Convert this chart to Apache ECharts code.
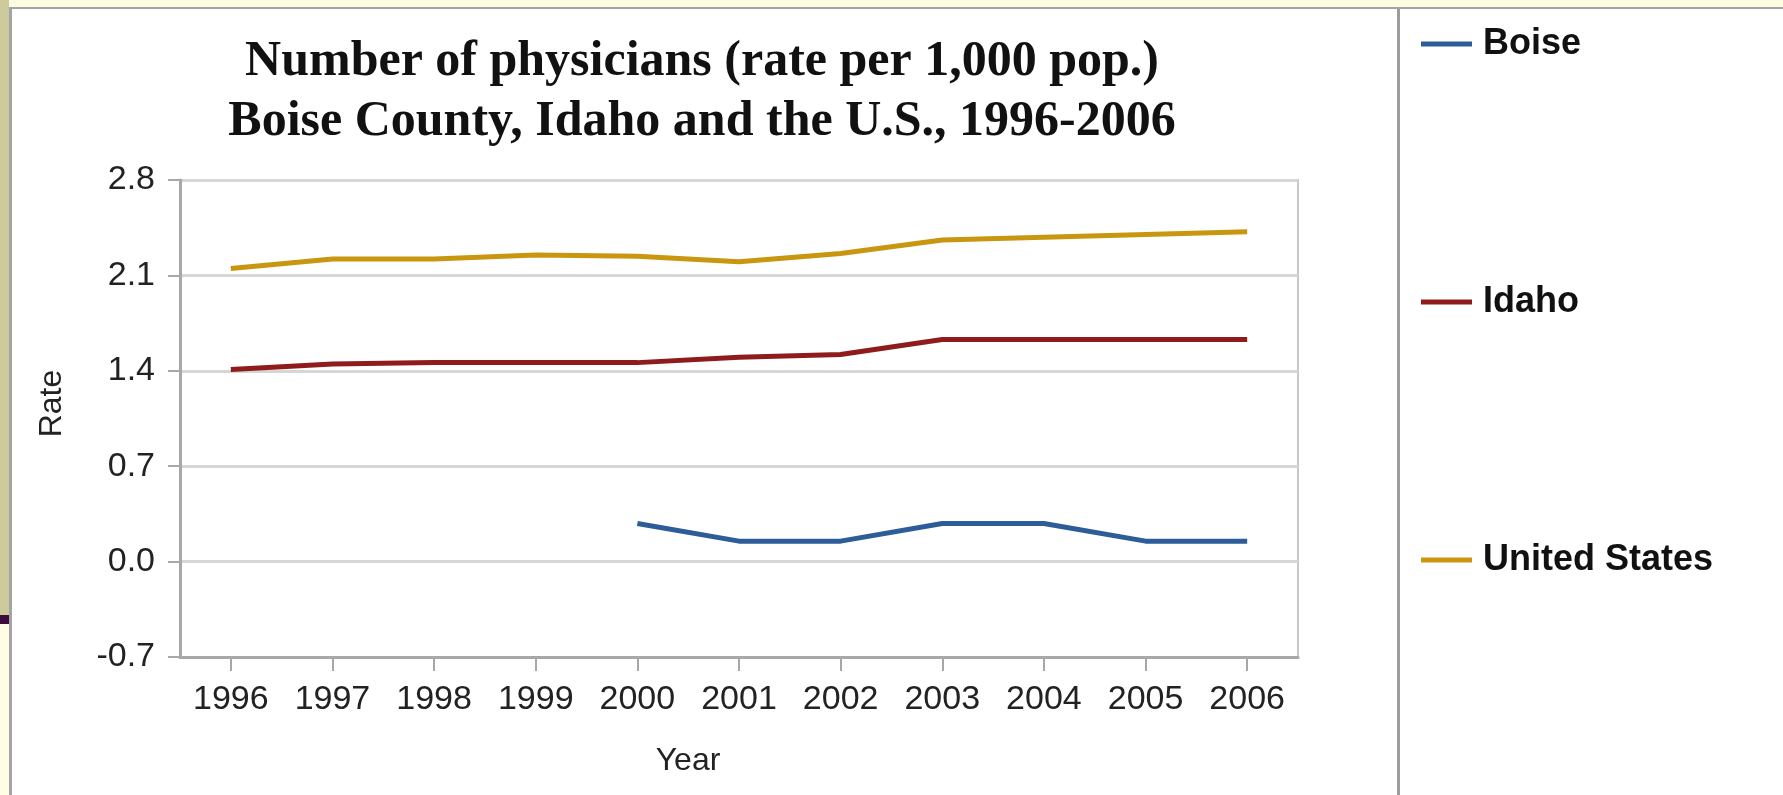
<!DOCTYPE html>
<html>
<head>
<meta charset="utf-8">
<script src="https://cdn.jsdelivr.net/npm/echarts@6/dist/echarts.min.js"></script>
<style>
html,body{margin:0;padding:0;background:#ffffff;}
#chart{width:1783px;height:795px;}
</style>
</head>
<body>
<div id="chart"></div>
<script>
const years = ['1996','1997','1998','1999','2000','2001','2002','2003','2004','2005','2006'];
const yTickValues = [-0.7, 0.0, 0.7, 1.4, 2.1, 2.8];
const boise = [null, null, null, null, 0.28, 0.15, 0.15, 0.28, 0.28, 0.15, 0.15];
const idaho = [1.41, 1.45, 1.46, 1.46, 1.46, 1.50, 1.52, 1.63, 1.63, 1.63, 1.63];
const unitedStates = [2.15, 2.22, 2.22, 2.25, 2.24, 2.20, 2.26, 2.36, 2.38, 2.40, 2.42];
const seriesNames = ['Boise', 'Idaho', 'United States'];
const seriesColors = ['#2c5d98', '#8e1c1c', '#c9960f'];
const titleText = 'Number of physicians (rate per 1,000 pop.)\nBoise County, Idaho and the U.S., 1996-2006';

const chart = echarts.init(document.getElementById('chart'), null, {renderer: 'canvas'});
const seriesData = [boise, idaho, unitedStates];

const option = {
  animation: false,
  backgroundColor: '#ffffff',
  title: {
    text: titleText,
    left: 697,
    top: 27,
    textAlign: 'center',
    textStyle: {
      fontFamily: 'Liberation Serif',
      fontWeight: 'bold',
      fontSize: 50,
      lineHeight: 60,
      color: '#111111'
    }
  },
  legend: {
    orient: 'vertical',
    left: 1416,
    top: 21,
    itemGap: 222,
    icon: 'rect',
    itemWidth: 51,
    itemHeight: 5,
    selectedMode: false,
    textStyle: {
      fontFamily: 'Liberation Sans',
      fontWeight: 'bold',
      fontSize: 36,
      lineHeight: 36,
      color: '#111111',
      padding: [0, 0, 0, 6]
    },
    data: seriesNames
  },
  grid: {
    left: 180,
    right: 485,
    top: 180,
    bottom: 138,
    show: true,
    borderColor: '#c8c8c8',
    borderWidth: 2,
    backgroundColor: '#ffffff'
  },
  xAxis: {
    type: 'category',
    data: years,
    boundaryGap: true,
    name: 'Year',
    nameLocation: 'middle',
    nameGap: 88,
    nameTextStyle: {
      fontFamily: 'Liberation Sans',
      fontSize: 32,
      color: '#222222',
      padding: [0, 102, 0, 0]
    },
    axisLine: {onZero: false, lineStyle: {color: '#a8a8a8', width: 3}},
    axisTick: {show: true, alignWithLabel: true, length: 14, lineStyle: {color: '#a8a8a8', width: 2}},
    axisLabel: {
      fontFamily: 'Liberation Sans',
      fontSize: 34,
      color: '#222222',
      margin: 26,
      interval: 0
    },
    splitLine: {show: false}
  },
  yAxis: {
    type: 'value',
    min: yTickValues[0],
    max: yTickValues[yTickValues.length - 1],
    interval: yTickValues[1] - yTickValues[0],
    name: 'Rate',
    nameLocation: 'middle',
    nameGap: 112,
    nameRotate: 90,
    nameTextStyle: {
      fontFamily: 'Liberation Sans',
      fontSize: 32,
      color: '#222222',
      padding: [0, 0, 0, 30]
    },
    axisLine: {show: true, lineStyle: {color: '#a8a8a8', width: 3}},
    axisTick: {show: true, length: 12, lineStyle: {color: '#a8a8a8', width: 2}},
    axisLabel: {
      fontFamily: 'Liberation Sans',
      fontSize: 34,
      color: '#222222',
      margin: 25,
      formatter: function (v) { return (Math.round(v * 10) / 10).toFixed(1); }
    },
    splitLine: {show: true, lineStyle: {color: '#d6d6d6', width: 3}}
  },
  series: seriesNames.map(function (name, i) {
    return {
      name: name,
      type: 'line',
      data: seriesData[i],
      showSymbol: false,
      symbol: 'none',
      connectNulls: false,
      lineStyle: {color: seriesColors[i], width: 5},
      itemStyle: {color: seriesColors[i]}
    };
  }),
  graphic: [
    {type: 'rect', left: 0, top: 0, shape: {width: 1783, height: 7}, style: {fill: '#fdfbe1'}, silent: true},
    {type: 'rect', left: 0, top: 7, shape: {width: 1783, height: 2}, style: {fill: '#a4a4a4'}, silent: true},
    {type: 'rect', left: 0, top: 0, shape: {width: 9, height: 615}, style: {fill: '#cdcb9b'}, silent: true},
    {type: 'rect', left: 0, top: 615, shape: {width: 9, height: 9}, style: {fill: '#3c0d3c'}, silent: true},
    {type: 'rect', left: 0, top: 624, shape: {width: 9, height: 171}, style: {fill: '#fffde3'}, silent: true},
    {type: 'rect', left: 9, top: 7, shape: {width: 3, height: 788}, style: {fill: '#a4a4a4'}, silent: true},
    {type: 'rect', left: 1397, top: 9, shape: {width: 3, height: 786}, style: {fill: '#9c9c9c'}, silent: true}
  ]
};
chart.setOption(option);
</script>
</body>
</html>
